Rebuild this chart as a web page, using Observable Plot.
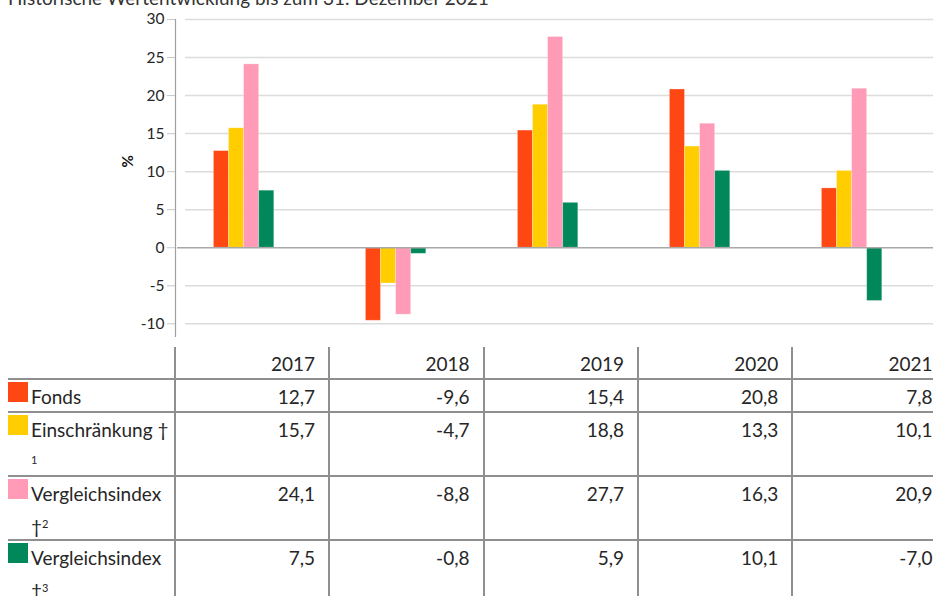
<!DOCTYPE html>
<html>
<head>
<meta charset="utf-8">
<script src="https://cdn.jsdelivr.net/npm/d3@7"></script>
<script src="https://cdn.jsdelivr.net/npm/@observablehq/plot@0.6"></script>
<style>
html, body { margin: 0; padding: 0; overflow: hidden; background: #fff; width: 933px; height: 596px; }
body { position: relative; font-family: Lato, "Open Sans", sans-serif; font-weight: 400; color: #262626; }
#title { position: absolute; left: 8px; top: -12px; font-size: 19px; line-height: 20px; white-space: nowrap; color: #333; }
#chart svg { display: block; }
#table { position: absolute; left: 8px; top: 347px; display: grid;
  grid-template-columns: 166px 154px 154.5px 154.5px 154.3px 154.3px;
  grid-template-rows: 33px 32.7px 64px 64.3px 64px; }
.cell { box-sizing: border-box; border-bottom: 2px solid #8f8f8f; font-size: 19px; line-height: 33.5px; white-space: nowrap; }
.val { border-left: 2px solid #8f8f8f; text-align: right; padding-right: 13px; }
.lab { position: relative; padding-left: 23px; }
.sw { position: absolute; left: 0; top: 2px; width: 20px; height: 20px; }
.sup { font-size: 11px; vertical-align: 6px; line-height: 0; }
</style>
</head>
<body>
<div id="chart"></div>
<div id="title">Historische Wertentwicklung bis zum 31. Dezember 2021</div>
<div id="table"></div>
<script>
const years = [2017, 2018, 2019, 2020, 2021];
const seriesNames = ["Fonds", "Einschränkung †1", "Vergleichsindex †2", "Vergleichsindex †3"];
const labelMain = ["Fonds", "Einschränkung †", "Vergleichsindex", "Vergleichsindex"];
const labelSecond = ["", "<span class='sup'>1</span>", "†<span class='sup'>2</span>", "†<span class='sup'>3</span>"];
const fonds = [12.7, -9.6, 15.4, 20.8, 7.8];
const einschraenkung = [15.7, -4.7, 18.8, 13.3, 10.1];
const vergleichsindex2 = [24.1, -8.8, 27.7, 16.3, 20.9];
const vergleichsindex3 = [7.5, -0.8, 5.9, 10.1, -7.0];
const colors = ["#FF4713", "#FFCD00", "#FF9BB6", "#00875A"];
const yTicks = [-10, -5, 0, 5, 10, 15, 20, 25, 30];

const seriesValues = [fonds, einschraenkung, vergleichsindex2, vergleichsindex3];
const data = seriesNames.flatMap((s, i) =>
  seriesValues[i].map((v, j) => ({year: years[j], series: s, index: i, value: v})));

const bw = 15.1 / 152;
const xDomain = [2016.5487, 2021.5355];

const chart = Plot.plot({
  width: 933,
  height: 340,
  marginLeft: 175,
  marginRight: 0,
  marginTop: 19,
  marginBottom: 3,
  x: {domain: xDomain, axis: null},
  y: {domain: [-11.8, 30], axis: null},
  color: {domain: seriesNames, range: colors},
  style: {fontFamily: "Lato, 'Open Sans', sans-serif", fontSize: "15px", color: "#262626", background: "#fff"},
  marks: [
    Plot.ruleY(yTicks.filter(d => d !== 0), {stroke: "#dcdcdc", strokeWidth: 1.5, insetLeft: 10}),
    Plot.rectY(data, {
      x1: d => d.year + (d.index - 2) * bw,
      x2: d => d.year + (d.index - 1) * bw,
      y1: d => 0,
      y2: "value",
      fill: "series",
      stroke: "#fff",
      strokeOpacity: 0.35,
      strokeWidth: 0.8
    }),
    Plot.ruleY([0], {stroke: "#a8a8a8", strokeWidth: 1.5, insetLeft: 2}),
    Plot.ruleX([xDomain[0]], {stroke: "#a0a0a0", strokeWidth: 1.2}),
    Plot.axisY(yTicks, {tickSize: 8, tickPadding: 3, stroke: "#c8c8c8", fill: "#262626", tickFormat: d => String(d), fontSize: 15.5, label: null}),
    Plot.text(["%"], {frameAnchor: "left", dx: -47, dy: -11, rotate: -90, fontWeight: "bold", fontSize: 15, fill: "#111"})
  ]
});
document.getElementById("chart").appendChild(chart);

const fmt = v => d3.format(".1f")(v).replace(".", ",").replace("−", "-");
const table = d3.select("#table");
table.append("div").attr("class", "cell");
years.forEach(y => table.append("div").attr("class", "cell val").text(y));
seriesNames.forEach((s, i) => {
  const lab = table.append("div").attr("class", "cell lab");
  lab.append("div").attr("class", "sw").style("background", colors[i]);
  lab.append("div").text(labelMain[i]);
  if (labelSecond[i]) lab.append("div").html(labelSecond[i]);
  seriesValues[i].forEach(v => table.append("div").attr("class", "cell val").text(fmt(v)));
});
</script>
</body>
</html>
